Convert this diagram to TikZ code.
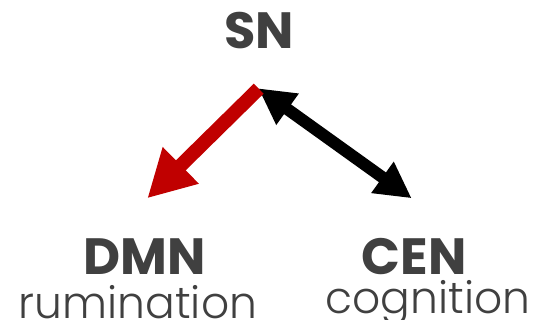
\documentclass[tikz,border=0pt]{standalone}
\usepackage{fontspec}
\setmainfont{Poppins}
\newfontfamily\rolefont{Poppins}[UprightFont=* Light]
\usetikzlibrary{arrows.meta}
\definecolor{labelgray}{HTML}{404040}
\definecolor{arrowred}{HTML}{C00000}
\begin{document}
\begin{tikzpicture}[x=1pt,y=-1pt,
  netname/.style={inner sep=0pt, anchor=base, text=labelgray, font=\bfseries\fontsize{51}{51}\selectfont},
  netrole/.style={inner sep=0pt, anchor=base, text=labelgray, font=\rolefont\fontsize{44}{44}\selectfont},
  redarrow/.style={draw=arrowred, line width=14pt, -{Triangle[length=47pt,width=48pt]}},
  blackarrow/.style={draw=black, line width=12pt, {Triangle[length=36pt,width=36pt]}-{Triangle[length=36pt,width=36pt]}}]
  \useasboundingbox (0,0) rectangle (536,320);
  % network labels
  \node[netname] (sn)  at (259,49)  {SN};
  \node[netname] (dmn) at (145,275) {DMN};
  \node[netname] (cen) at (414,275) {CEN};
  \node[netrole] (rum) at (138,319) {rumination};
  \node[netrole] (cog) at (428,314) {cognition};
  % arrow end points
  \coordinate (snout) at (258.7,88.7);
  \coordinate (dmnin) at (147.3,198.3);
  \coordinate (snpair) at (258.3,88.3);
  \coordinate (cenin) at (411.7,198.3);
  % connections
  \draw[blackarrow] (snpair) -- (cenin);
  \draw[redarrow] (snout) -- (dmnin);
\end{tikzpicture}
\end{document}
